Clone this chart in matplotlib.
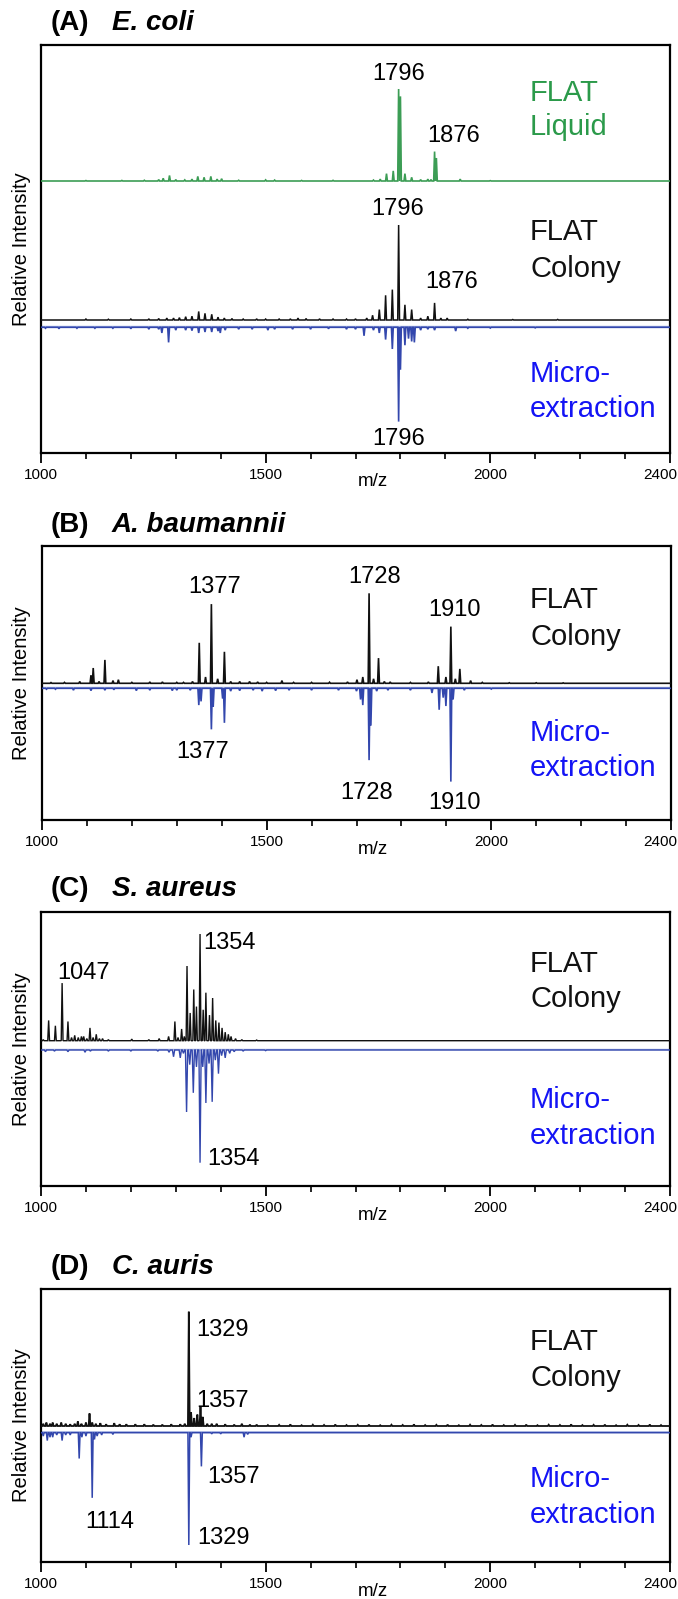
import numpy as np
import matplotlib
matplotlib.use("Agg")
import matplotlib.pyplot as plt

plt.rcParams['font.family'] = ['Liberation Sans', 'DejaVu Sans']

# ---------------- data ----------------
xtick_values = [1000, 1500, 2000, 2400]
xtick_labels = ['1000', '1500', '2000', '2400']
minor_ticks = [1100, 1200, 1300, 1400, 1600, 1700, 1800, 1900, 2100, 2200, 2300]

# (A) E. coli
ecoli_liquid_mz = [1100, 1180, 1230, 1262, 1272, 1286, 1300, 1320, 1336, 1349, 1363, 1378, 1392, 1402,
                   1440, 1500, 1520, 1580, 1650, 1740, 1755, 1769, 1784, 1796, 1800, 1810, 1825, 1845,
                   1861, 1868, 1876, 1880, 1933, 2000]
ecoli_liquid_int = [0.5, 0.6, 0.8, 1.5, 3, 6, 1.5, 1.2, 2, 5, 4, 5, 2, 2.5,
                    0.8, 1.2, 1, 0.6, 0.7, 1, 2, 8, 11, 100, 92, 8, 4, 1.5,
                    2, 1.5, 32, 25, 2, 0.4]

ecoli_colony_mz = [1100, 1150, 1200, 1240, 1262, 1280, 1295, 1308, 1322, 1336, 1351, 1365, 1380, 1394,
                   1408, 1425, 1450, 1480, 1500, 1530, 1555, 1572, 1590, 1620, 1650, 1680, 1700, 1725,
                   1738, 1753, 1767, 1782, 1796, 1810, 1825, 1845, 1861, 1876, 1890, 1904, 1950, 2050, 2150]
ecoli_colony_int = [1, 0.8, 1, 1.2, 1.5, 2, 2, 2.5, 3.5, 4, 9, 7, 6, 3,
                    2, 1.5, 1, 1.2, 1, 1, 1.2, 2, 1.5, 1.2, 1, 1, 1.2, 2,
                    5, 11, 26, 32, 100, 16, 11, 2, 4, 18, 2, 2, 0.8, 0.5, 0.6]

ecoli_micro_mz = [1010, 1040, 1080, 1120, 1160, 1200, 1240, 1262, 1269, 1284, 1300, 1322, 1336, 1351,
                  1365, 1380, 1394, 1399, 1410, 1440, 1470, 1505, 1520, 1560, 1600, 1640, 1680, 1700,
                  1719, 1740, 1753, 1767, 1782, 1796, 1800, 1810, 1818, 1825, 1831, 1845, 1861, 1876,
                  1923, 1950, 2000, 2100]
ecoli_micro_int = [1, 1.5, 1, 1, 1, 1.5, 2, 2, 6, 16, 3, 3, 3.5, 6,
                   5, 5, 4, 6, 3, 2, 2, 3, 2, 2, 2, 1.5, 2, 2,
                   9, 3, 6, 13, 23, 100, 45, 19, 12, 15, 16, 3, 2, 3,
                   4, 1, 0.8, 0.6]

# (B) A. baumannii
abau_colony_mz = [1020, 1050, 1084, 1109, 1114, 1127, 1140, 1158, 1170, 1200, 1240, 1268, 1300, 1315,
                  1335, 1350, 1364, 1377, 1391, 1406, 1420, 1440, 1462, 1480, 1500, 1534, 1560, 1600,
                  1640, 1680, 1701, 1714, 1728, 1738, 1749, 1762, 1775, 1820, 1860, 1882, 1899, 1910,
                  1920, 1930, 1954, 1980, 2040, 2100, 2160]
abau_colony_int = [0.8, 1, 2, 9, 17, 2, 26, 3, 4, 1, 1.5, 1.5, 1, 1,
                   2, 45, 7, 88, 5, 35, 2, 2, 2, 1.5, 1, 3, 1, 1,
                   1.2, 1.5, 4, 7, 100, 5, 28, 2, 1.5, 1, 1.5, 19, 7, 63,
                   5, 16, 3, 1, 0.6, 0.6, 0.5]

abau_micro_mz = [1010, 1030, 1070, 1109, 1140, 1160, 1210, 1240, 1290, 1300, 1330, 1349, 1354, 1377,
                 1381, 1402, 1406, 1420, 1440, 1470, 1490, 1520, 1550, 1600, 1660, 1700, 1709, 1714,
                 1728, 1732, 1745, 1770, 1820, 1868, 1884, 1893, 1899, 1910, 1915, 1940, 2000]
abau_micro_int = [1, 1, 2, 2.5, 2, 1.5, 2.5, 2, 2.5, 2, 2, 18, 14, 44,
                  20, 11, 37, 3, 2.5, 2, 3, 2.5, 2, 2, 2, 3, 12, 18,
                  77, 40, 3, 2, 2, 5, 23, 10, 19, 100, 12, 2, 0.8]

# (C) S. aureus
saur_colony_mz = [1005, 1017, 1032, 1047, 1060, 1068, 1075, 1083, 1090, 1095, 1102, 1109, 1116, 1123,
                  1130, 1137, 1150, 1202, 1240, 1263, 1284, 1298, 1305, 1313, 1319, 1325, 1332, 1340,
                  1346, 1354, 1361, 1367, 1375, 1382, 1389, 1396, 1403, 1410, 1417, 1423, 1433, 1447, 1480]
saur_colony_int = [1, 19, 14, 54, 18, 3, 5, 3, 4, 4, 2, 12, 3, 6,
                   2, 2, 1, 1.5, 1, 2, 4, 18, 3, 11, 4, 70, 26, 48,
                   32, 100, 29, 45, 24, 40, 19, 17, 12, 8, 6, 4, 2, 1, 0.6]

saur_micro_mz = [1010, 1030, 1060, 1098, 1110, 1150, 1200, 1260, 1285, 1295, 1310, 1317, 1324, 1331,
                 1339, 1346, 1354, 1360, 1367, 1374, 1381, 1388, 1395, 1402, 1410, 1420, 1430, 1450, 1500]
saur_micro_int = [1.5, 1, 1.5, 2, 1, 1, 1, 1, 2, 6, 7, 3, 55, 13,
                  38, 15, 100, 15, 47, 12, 46, 9, 21, 5, 7, 3, 1.5, 1, 0.6]

# (D) C. auris
caur_colony_mz = [1005, 1012, 1020, 1026, 1035, 1045, 1055, 1065, 1075, 1082, 1090, 1100, 1108, 1114,
                  1122, 1132, 1145, 1163, 1175, 1190, 1210, 1230, 1250, 1270, 1290, 1310, 1320, 1329,
                  1334, 1341, 1348, 1355, 1360, 1370, 1380, 1391, 1410, 1430, 1447, 1465,
                  1480, 1505, 1530, 1555, 1580, 1605, 1630, 1655, 1680, 1705, 1730, 1755, 1780, 1805,
                  1830, 1855, 1880, 1905, 1930, 1955, 1980, 2005, 2030, 2055, 2080, 2105, 2130, 2155,
                  2180, 2205, 2230, 2255, 2280, 2305, 2330, 2355, 2380]
caur_colony_int = [2, 3, 2, 3, 2, 3, 2, 1.5, 2, 4, 2, 3, 11, 3,
                   2, 2.5, 1.5, 2.5, 1.5, 1.5, 1.5, 1.5, 1.2, 1.2, 1.5, 1.5, 2, 100,
                   12, 7, 10, 17, 8, 2, 2, 2, 1.5, 1.2, 2, 1.2,
                   1.2, 0.8, 1.0, 1.4, 0.7, 1.1, 0.9, 1.3, 0.8, 1.0, 1.2, 0.7, 1.1, 0.9,
                   1.4, 0.8, 1.0, 1.2, 0.7, 1.1, 0.9, 1.3, 0.8, 1.0, 1.2, 0.7, 1.1, 0.9,
                   1.4, 0.8, 1.0, 1.2, 0.7, 1.1, 0.9, 1.3, 0.8]

caur_micro_mz = [1005, 1014, 1020, 1026, 1035, 1047, 1055, 1065, 1085, 1091, 1100, 1114, 1119, 1125,
                 1135, 1160, 1329, 1334, 1357, 1380, 1400, 1452, 1460]
caur_micro_int = [3, 7, 4, 4, 2, 7, 2, 2, 23, 4, 3, 58, 6, 3,
                  2, 1.5, 100, 4, 30, 1, 1, 4, 1.5]

# ---------------- figure ----------------
W, HF = 678, 1599
fig = plt.figure(figsize=(W / 100, HF / 100), dpi=100)

GREEN = '#3c9d55'
GREEN_TXT = '#2b9a4a'
BLACK = '#111111'
BLUE = '#3347ad'
BLUE_LIGHT = '#a3b2e2'
BLUE_TXT = '#1414f5'


def px_axes(l, t, r, b):
    return fig.add_axes([l / W, 1 - b / HF, (r - l) / W, (b - t) / HF])


def ftext(x, y, s, **kw):
    return fig.text(x / W, 1 - y / HF, s, **kw)


def profile(mz, inten, hw):
    order = np.argsort(mz)
    xs, ys = [1000.0], [0.0]
    for i in order:
        xs += [mz[i] - hw, mz[i], mz[i] + hw]
        ys += [0.0, inten[i], 0.0]
    xs.append(2400.0)
    ys.append(0.0)
    return np.array(xs), np.array(ys)


def trace(ax, mz, inten, base, scale, sign, color, lw=1.0, hw=2.0, z=3):
    xs, ys = profile(mz, inten, hw)
    ax.plot(xs, base + sign * scale * ys / 100.0, color=color, lw=lw, zorder=z,
            solid_joinstyle='miter')


def setup(ax, top, bottom):
    H = bottom - top
    ax.set_xlim(1000, 2400)
    ax.set_ylim(0, H)
    ax.set_yticks([])
    ax.set_xticks(xtick_values)
    ax.set_xticklabels(xtick_labels[:-1] + [''])
    ax.set_xticks(minor_ticks, minor=True)
    ax.tick_params(axis='x', which='major', direction='out', length=7, width=1.3,
                   labelsize=11, pad=3.5)
    ax.tick_params(axis='x', which='minor', direction='out', length=4, width=1.2)
    for sp in ax.spines.values():
        sp.set_linewidth(1.6)
    # last tick label sits against the figure edge
    ftext(660, bottom + 15, xtick_labels[-1], ha='center', va='top', fontsize=11)
    ftext(373, bottom + 29, 'm/z', ha='center', va='center', fontsize=13.5)
    ftext(22, (top + bottom) / 2, 'Relative Intensity', rotation=90,
          ha='center', va='center', fontsize=14.5)


def side_label(line1, line2, y1, y2, color):
    ftext(530, y1, line1, ha='left', va='baseline', fontsize=21, color=color)
    ftext(530, y2, line2, ha='left', va='baseline', fontsize=21, color=color)


def title(letter, species, y):
    ftext(51, y, letter, ha='left', va='center', fontsize=20, fontweight='bold')
    ftext(112, y, species, ha='left', va='center', fontsize=20, fontweight='bold',
          style='italic')


PK = 17

# ----- (A) -----
A_t, A_b = 45, 453
axA = px_axes(41, A_t, 670, A_b)
setup(axA, A_t, A_b)
trace(axA, ecoli_liquid_mz, ecoli_liquid_int, 272, 92, 1, GREEN, lw=1.2)
axA.axhline(126.7, color=BLUE_LIGHT, lw=1.0, zorder=2)
trace(axA, ecoli_colony_mz, ecoli_colony_int, 133, 95, 1, BLACK, lw=1.1)
trace(axA, ecoli_micro_mz, ecoli_micro_int, 125.7, 94.3, -1, BLUE, lw=1.2)
title('(A)', 'E. coli', 23)
ftext(399, 80, '1796', ha='center', va='baseline', fontsize=PK)
ftext(454, 142, '1876', ha='center', va='baseline', fontsize=PK)
ftext(398, 215, '1796', ha='center', va='baseline', fontsize=PK)
ftext(452, 288, '1876', ha='center', va='baseline', fontsize=PK)
ftext(399, 445, '1796', ha='center', va='baseline', fontsize=PK)
side_label('FLAT', 'Liquid', 101, 135, GREEN_TXT)
side_label('FLAT', 'Colony', 240, 277, BLACK)
side_label('Micro-', 'extraction', 382, 417, BLUE_TXT)

# ----- (B) -----
B_t, B_b = 546, 820
axB = px_axes(42, B_t, 671, B_b)
setup(axB, B_t, B_b)
axB.axhline(133, color=BLUE_LIGHT, lw=1.0, zorder=2)
trace(axB, abau_colony_mz, abau_colony_int, 136.7, 90, 1, BLACK, lw=1.2)
trace(axB, abau_micro_mz, abau_micro_int, 131.7, 93.3, -1, BLUE, lw=1.2)
title('(B)', 'A. baumannii', 525)
ftext(215, 593, '1377', ha='center', va='baseline', fontsize=PK)
ftext(375, 583, '1728', ha='center', va='baseline', fontsize=PK)
ftext(454, 616, '1910', ha='center', va='baseline', fontsize=PK)
ftext(203, 758, '1377', ha='center', va='baseline', fontsize=PK)
ftext(367, 799, '1728', ha='center', va='baseline', fontsize=PK)
ftext(454, 809, '1910', ha='center', va='baseline', fontsize=PK)
side_label('FLAT', 'Colony', 608, 645, BLACK)
side_label('Micro-', 'extraction', 741, 776, BLUE_TXT)

# ----- (C) -----
C_t, C_b = 912, 1186
axC = px_axes(41, C_t, 670, C_b)
setup(axC, C_t, C_b)
axC.axhline(137, color=BLUE_LIGHT, lw=1.0, zorder=2)
trace(axC, saur_colony_mz, saur_colony_int, 145.3, 106.7, 1, BLACK, lw=1.0)
trace(axC, saur_micro_mz, saur_micro_int, 136, 112.7, -1, BLUE, lw=1.0, hw=2.5)
title('(C)', 'S. aureus', 889)
ftext(203, 949, '1354', ha='left', va='baseline', fontsize=PK)
ftext(57, 979, '1047', ha='left', va='baseline', fontsize=PK)
ftext(207, 1165, '1354', ha='left', va='baseline', fontsize=PK)
side_label('FLAT', 'Colony', 972, 1007, BLACK)
side_label('Micro-', 'extraction', 1108, 1144, BLUE_TXT)

# ----- (D) -----
D_t, D_b = 1289, 1562
axD = px_axes(41, D_t, 670, D_b)
setup(axD, D_t, D_b)
axD.axhline(130.3, color=BLUE_LIGHT, lw=1.2, zorder=2)
trace(axD, caur_colony_mz, caur_colony_int, 136, 114.3, 1, BLACK, lw=1.3)
trace(axD, caur_micro_mz, caur_micro_int, 129.3, 112.3, -1, BLUE, lw=1.1)
title('(D)', 'C. auris', 1267)
ftext(196, 1336, '1329', ha='left', va='baseline', fontsize=PK)
ftext(196, 1407, '1357', ha='left', va='baseline', fontsize=PK)
ftext(207, 1483, '1357', ha='left', va='baseline', fontsize=PK)
ftext(110, 1528, '1114', ha='center', va='baseline', fontsize=PK)
ftext(197, 1544, '1329', ha='left', va='baseline', fontsize=PK)
side_label('FLAT', 'Colony', 1350, 1386, BLACK)
side_label('Micro-', 'extraction', 1487, 1523, BLUE_TXT)

fig.savefig('out.png', dpi=100)
